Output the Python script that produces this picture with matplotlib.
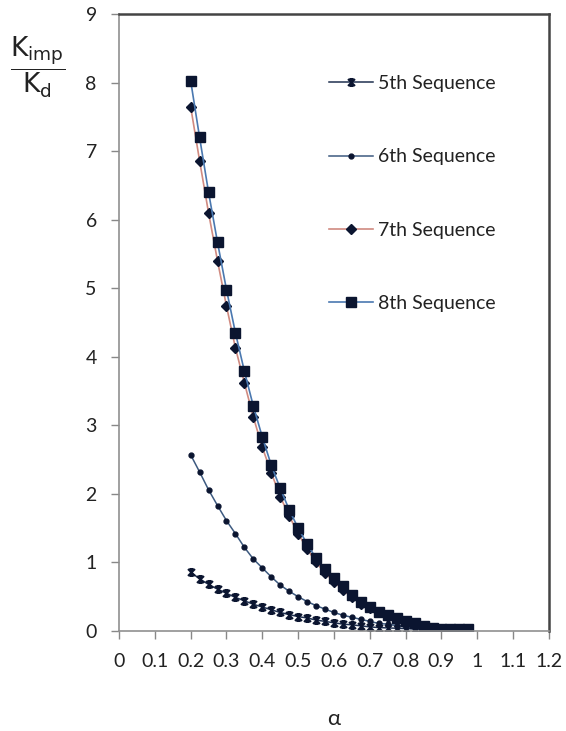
import numpy as np
import matplotlib
matplotlib.use("Agg")
import matplotlib.pyplot as plt
from matplotlib.path import Path

plt.rcParams['font.family'] = ['Lato', 'DejaVu Sans']

# alpha values (0.2 .. 0.975 step 0.025)
alpha = [0.2, 0.225, 0.25, 0.275, 0.3, 0.325, 0.35, 0.375, 0.4, 0.425,
         0.45, 0.475, 0.5, 0.525, 0.55, 0.575, 0.6, 0.625, 0.65, 0.675,
         0.7, 0.725, 0.75, 0.775, 0.8, 0.825, 0.85, 0.875, 0.9, 0.925,
         0.95, 0.975]

seq5 = [0.86, 0.76, 0.68, 0.61, 0.55, 0.49, 0.44, 0.39, 0.35, 0.31,
        0.27, 0.24, 0.21, 0.19, 0.16, 0.14, 0.12, 0.10, 0.09, 0.075,
        0.06, 0.05, 0.045, 0.04, 0.035, 0.03, 0.025, 0.02, 0.02, 0.015,
        0.01, 0.01]

seq6 = [2.57, 2.32, 2.06, 1.83, 1.61, 1.42, 1.22, 1.05, 0.92, 0.79,
        0.67, 0.58, 0.50, 0.43, 0.37, 0.32, 0.27, 0.23, 0.20, 0.17,
        0.14, 0.11, 0.10, 0.08, 0.06, 0.05, 0.04, 0.03, 0.02, 0.02,
        0.01, 0.01]

seq7 = [7.65, 6.86, 6.1, 5.4, 4.74, 4.13, 3.62, 3.12, 2.68, 2.31,
        1.96, 1.68, 1.42, 1.20, 1.00, 0.85, 0.72, 0.60, 0.49, 0.40,
        0.33, 0.27, 0.21, 0.17, 0.13, 0.10, 0.07, 0.05, 0.03, 0.02,
        0.02, 0.02]

seq8 = [8.03, 7.2, 6.4, 5.67, 4.98, 4.35, 3.79, 3.28, 2.83, 2.42,
        2.08, 1.77, 1.50, 1.27, 1.06, 0.90, 0.77, 0.65, 0.53, 0.43,
        0.35, 0.28, 0.23, 0.19, 0.15, 0.11, 0.07, 0.04, 0.03, 0.03,
        0.03, 0.03]

labels = ["5th Sequence", "6th Sequence", "7th Sequence", "8th Sequence"]
xticks = [0, 0.1, 0.2, 0.3, 0.4, 0.5, 0.6, 0.7, 0.8, 0.9, 1, 1.1, 1.2]
xticklabels = ["0", "0.1", "0.2", "0.3", "0.4", "0.5", "0.6", "0.7",
               "0.8", "0.9", "1", "1.1", "1.2"]

# excel-like star marker (x with a vertical bar)
star = Path([(-1, -1), (1, 1), (-1, 1), (1, -1), (0, -1), (0, 1),
             (-0.6, 1), (0.6, 1), (-0.6, -1), (0.6, -1)],
            [Path.MOVETO, Path.LINETO] * 5)

mk = '#0b1530'
fig = plt.figure(figsize=(5.66, 7.31), dpi=100)
ax = fig.add_axes([0.2102, 0.1368, 0.7597, 0.8440])

ax.plot(alpha, seq5, color='#1f3050', lw=1.1, marker=star, ms=5,
        mec=mk, mfc=mk, mew=1.5, label=labels[0])
ax.plot(alpha, seq6, color='#3d5a80', lw=1.1, marker='o', ms=3.5,
        mec=mk, mfc=mk, label=labels[1])
ax.plot(alpha, seq7, color='#d08a80', lw=1.2, marker='D', ms=5.5,
        mec=mk, mfc=mk, label=labels[2])
ax.plot(alpha, seq8, color='#4a78b0', lw=1.2, marker='s', ms=7,
        mec=mk, mfc=mk, label=labels[3])

ax.set_xlim(0, 1.2)
ax.set_ylim(0, 9)
ax.set_xticks(xticks)
ax.set_xticklabels(xticklabels)
ax.set_yticks(range(10))
ax.tick_params(direction='out', length=6, width=1, color='#888888',
               labelsize=14, labelcolor='#222222', pad=10)
for s in ['left', 'bottom']:
    ax.spines[s].set_color('#909090')
    ax.spines[s].set_linewidth(1.2)
for s in ['top', 'right']:
    ax.spines[s].set_color('#444444')
    ax.spines[s].set_linewidth(1.8)

fig.text(334 / 566, 1 - 719 / 731, 'α', fontsize=16, ha='center',
         va='center', color='#222222')

fig.text(0.066, 0.908, r'$\dfrac{\mathrm{K_{imp}}}{\mathrm{K_d}}$',
         fontsize=19, ha='center', va='center', color='#222222')

ax.legend(loc='upper left', bbox_to_anchor=(0.465, 0.917), frameon=False,
          fontsize=14, labelspacing=2.9, handlelength=2.3,
          handletextpad=0.25, borderpad=0, labelcolor='#222222')

fig.savefig('out.png', dpi=100)
